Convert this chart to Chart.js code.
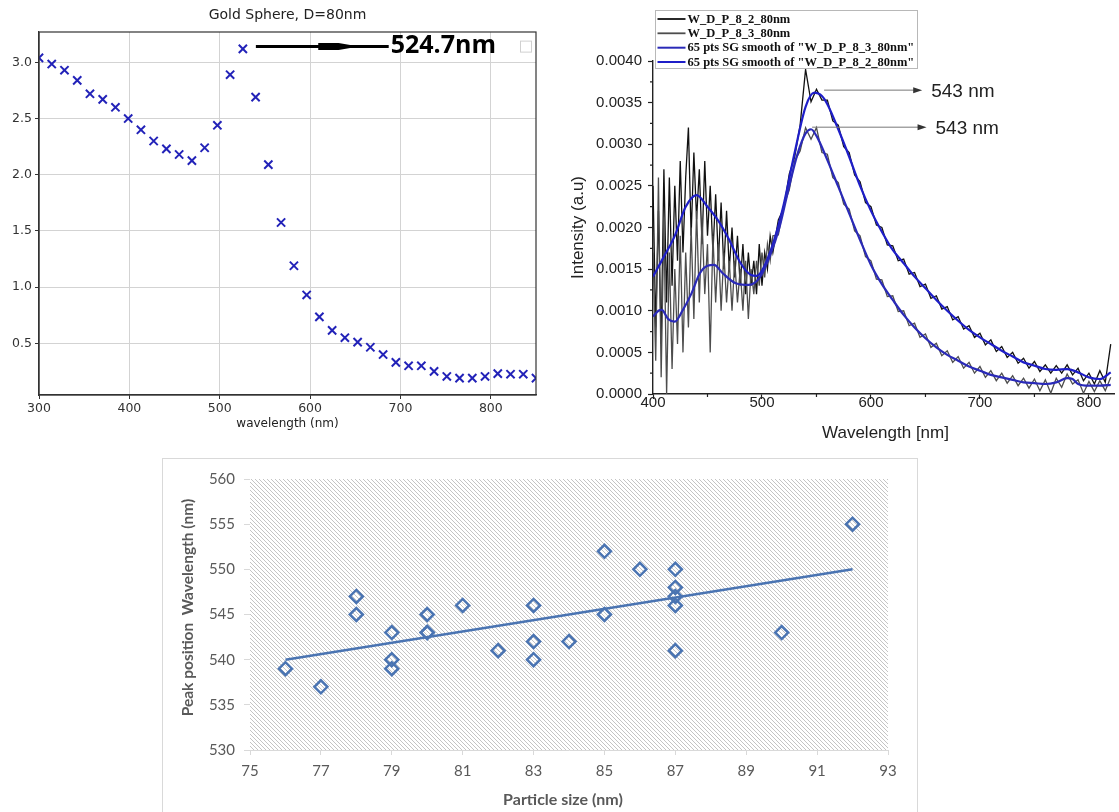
<!DOCTYPE html>
<html>
<head>
<meta charset="utf-8">
<title>Gold nanoparticle spectra</title>
<script src="https://cdn.jsdelivr.net/npm/chart.js@4.4.1/dist/chart.umd.min.js"></script>
<style>
  html, body { margin: 0; padding: 0; background: #fff; }
  body { width: 1119px; height: 812px; position: relative; overflow: hidden; }
  .panel { position: absolute; }
  #mieWrap { left: 0; top: 0; }
  #specWrap { left: 560px; top: 0; }
  #peakWrap { left: 162px; top: 458px; border: 1px solid #d9d9d9; }
  canvas { display: block; }
</style>
</head>
<body>
<div class="panel" id="mieWrap"><canvas id="mie" width="560" height="445"></canvas></div>
<div class="panel" id="specWrap"><canvas id="spec" width="559" height="450"></canvas></div>
<div class="panel" id="peakWrap"><canvas id="peak" width="754" height="353"></canvas></div>
<script>
// --- top left: simulated extinction, gold sphere D=80nm
const mieWavelength = [300, 314.1, 328.2, 342.3, 356.4, 370.5, 384.6, 398.7, 412.8, 426.9,
  441.0, 455.1, 469.2, 483.3, 497.4, 511.5, 525.6, 539.7, 553.8, 567.9,
  582.1, 596.2, 610.3, 624.4, 638.5, 652.6, 666.7, 680.8, 694.9, 709.0,
  723.1, 737.2, 751.3, 765.4, 779.5, 793.6, 807.7, 821.8, 835.9, 850];
const mieExtinction = [3.04, 2.985, 2.93, 2.84, 2.72, 2.67, 2.60, 2.50, 2.40, 2.30,
  2.23, 2.18, 2.125, 2.24, 2.44, 2.89, 3.12, 2.69, 2.09, 1.575,
  1.19, 0.93, 0.735, 0.615, 0.55, 0.51, 0.465, 0.40, 0.33, 0.30,
  0.30, 0.25, 0.205, 0.19, 0.19, 0.205, 0.23, 0.225, 0.225, 0.19];

// --- top right: measured spectra (raw) and SG smoothed curves
const specX = [400, 402.5, 405, 407.5, 410, 412.5, 415, 417.5, 420, 422.5,
  425, 427.5, 430, 432.5, 435, 437.5, 440, 442.5, 445, 447.5,
  450, 452.5, 455, 457.5, 460, 462.5, 465, 467.5, 470, 472.5,
  475, 477.5, 480, 482.5, 485, 487.5, 490, 492.5, 495, 497.5,
  500, 502.5, 505, 507.5, 510,
  515, 520, 525, 530, 535, 540, 545, 550, 555, 560,
  565, 570, 575, 580, 585, 590, 595, 600, 605, 610,
  615, 620, 625, 630, 635, 640, 645, 650, 655, 660,
  665, 670, 675, 680, 685, 690, 695, 700, 705, 710,
  715, 720, 725, 730, 735, 740, 745, 750, 755, 760,
  765, 770, 775, 780, 785, 790, 795, 800, 805, 810, 815, 820];
const raw82 = [.0025, .0008, .0022, .0006, .0027, .0011, .0026, .0013, .0025, .0016,
  .0028, .0017, .0026, .0032, .0019, .0029, .0021, .0027, .0018, .0028,
  .0019, .0025, .0017, .0024, .0016, .0023, .0015, .0022, .0015, .0020,
  .0014, .0019, .0013, .0018, .0012, .0017, .0013, .0016, .0012, .0018,
  .0013, .0017, .0015, .0019, .0017,
  .00209, .00223, .00264, .00285, .00323, .0039, .00351, .00366, .00353, .00353,
  .00328, .00323, .00297, .0029, .00263, .00255, .0023, .00225, .00203, .002,
  .00179, .00178, .0016, .00162, .00144, .00146, .00129, .00132, .00115, .00118,
  .00102, .00105, .00089, .00093, .00078, .00082, .00068, .00073, .00059, .00065,
  .00051, .00057, .00044, .0005, .00037, .00043, .00031, .00039, .00027, .00035,
  .00025, .00034, .00025, .00035, .00023, .00031, .00016, .00025, .00012, .00028, .00014, .0006];
const raw83 = [.0017, .0004, .0026, .0002, .0021, .0000, .0017, .0003, .0015, .0006,
  .0019, .0005, .0017, .0008, .0020, .0009, .0022, .0011, .0021, .0012,
  .0018, .0005, .0019, .0011, .0018, .0010, .0017, .0011, .0016, .0010,
  .0016, .0011, .0015, .0010, .0016, .0009, .0015, .0012, .0016, .0013,
  .0017, .0014, .0018, .0016, .0019,
  .00191, .00227, .00245, .0028, .00292, .0032, .00306, .0032, .0029, .00288,
  .0026, .00254, .00228, .00222, .00196, .0019, .00165, .0016, .00138, .00137,
  .00117, .00118, .00099, .001, .00082, .00085, .00068, .00072, .00056, .00061,
  .00046, .00052, .00038, .00045, .00031, .00038, .00025, .00033, .0002, .00028,
  .00016, .00025, .00013, .00022, .0001, .00019, .00007, .00018, .00004, .00017,
  .00001, .00019, .00008, .00024, .00012, .00017, .00001, .00015, .00003, .00016, .00004, .0002];
const smoothX82 = [400, 410, 420, 430, 440, 450, 460, 470, 480, 490,
  495, 500, 510, 520, 530, 540, 548, 555, 560, 570,
  580, 590, 600, 610, 620, 630, 640, 650, 660, 670,
  680, 690, 700, 710, 720, 730, 740, 750, 760, 770,
  780, 790, 800, 810, 820];
const smooth82 = [.00141, .00165, .0019, .00225, .00239, .00225, .00208, .00185, .00158, .00143,
  .00142, .00148, .0018, .00228, .0029, .00345, .00362, .00358, .00348, .00318,
  .00285, .0025, .0022, .00195, .00173, .00157, .00141, .00127, .00113, .001,
  .00088, .00077, .00068, .0006, .00052, .00045, .00038, .00034, .0003, .00029,
  .0003, .00026, .0002, .00018, .00026];
const smoothX83 = [400, 405, 408, 414, 420, 427, 435, 443, 450, 456,
  464, 476, 488, 498, 507, 516, 525, 533, 540, 545,
  550, 560, 570, 580, 590, 600, 610, 620, 630, 640,
  650, 660, 670, 680, 690, 700, 710, 720, 730, 740,
  750, 760, 770, 780, 785, 790, 800, 810, 820];
const smooth83 = [.00093, .001, .00101, .0009, .00087, .001, .0012, .00145, .00154, .00155,
  .00145, .00133, .00131, .0014, .00165, .002, .0025, .0029, .00313, .00318,
  .0031, .00281, .00249, .00217, .00185, .00155, .00132, .00113, .00095, .0008,
  .00067, .00056, .00047, .0004, .00033, .00028, .00023, .0002, .00017, .00014,
  .00013, .00012, .00014, .00019, .00018, .00012, .0001, .0001, .00011];

// --- bottom: peak position vs particle size
const sizeNm = [76, 77, 78, 78, 79, 79, 79, 80, 80, 80, 81, 82, 83, 83, 83, 84, 85, 85, 86, 87, 87, 87, 87, 87, 90, 92];
const peakNm = [539, 537, 547, 545, 543, 540, 539, 545, 543, 543, 546, 541, 546, 542, 540, 542, 552, 545, 550, 550, 548, 547, 546, 541, 543, 555];
const trendSize = [76, 92];
const trendPeak = [540, 550];

const pts = (xs, ys) => xs.map((x, i) => ({ x: x, y: ys[i] }));

// ============ chart 1 ============
const mieNote = { from: 540, to: 687, headFrom: 609, headTo: 654, y: 3.14, text: '524.7nm' };

const mieDecor = {
  id: 'mieDecor',
  afterDraw(chart) {
    const { ctx, chartArea: a, scales: { x, y } } = chart;
    ctx.save();
    ctx.strokeStyle = '#333';
    ctx.lineWidth = 1.2;
    ctx.strokeRect(a.left, a.top, a.right - a.left, a.bottom - a.top);

    ctx.fillStyle = '#222';
    ctx.textAlign = 'center';
    ctx.textBaseline = 'middle';
    ctx.font = '14px "DejaVu Sans"';
    ctx.fillText('Gold Sphere, D=80nm', (a.left + a.right) / 2, 15);
    ctx.font = '12px "DejaVu Sans"';
    ctx.fillText('wavelength (nm)', (a.left + a.right) / 2, a.bottom + 29);

    // arrow to the peak label
    const ay = y.getPixelForValue(mieNote.y);
    const x0 = x.getPixelForValue(mieNote.from), x1 = x.getPixelForValue(mieNote.to);
    const h0 = x.getPixelForValue(mieNote.headFrom), h1 = x.getPixelForValue(mieNote.headTo);
    ctx.strokeStyle = '#000';
    ctx.lineWidth = 3;
    ctx.beginPath(); ctx.moveTo(x0, ay); ctx.lineTo(x1, ay); ctx.stroke();
    ctx.fillStyle = '#000';
    ctx.beginPath();
    ctx.moveTo(h0, ay - 3.5); ctx.lineTo(h0 + (h1 - h0) * 0.5, ay - 3.5);
    ctx.lineTo(h1, ay); ctx.lineTo(h0 + (h1 - h0) * 0.5, ay + 3.5);
    ctx.lineTo(h0, ay + 3.5); ctx.closePath(); ctx.fill();
    ctx.font = 'bold 25px "Open Sans"';
    ctx.textAlign = 'left';
    ctx.fillText(mieNote.text, x1 + 2, ay - 1);

    // empty legend box
    ctx.strokeStyle = '#d0d0d0';
    ctx.lineWidth = 1;
    ctx.strokeRect(a.right - 15.5, ay - 5.5, 11, 11);
    ctx.restore();
  }
};

new Chart(document.getElementById('mie'), {
  type: 'scatter',
  data: {
    datasets: [{
      data: pts(mieWavelength, mieExtinction),
      pointStyle: 'crossRot',
      pointRadius: 5.8,
      pointBorderWidth: 2,
      pointBorderColor: '#2222b8',
      pointBackgroundColor: '#2222b8',
      clip: 0
    }]
  },
  options: {
    responsive: false,
    animation: false,
    layout: { padding: { top: 32, right: 24, left: 0, bottom: 0 } },
    plugins: { legend: { display: false }, tooltip: { enabled: false } },
    scales: {
      x: {
        type: 'linear', min: 300, max: 850,
        afterFit: s => { s.height = 50; },
        ticks: { stepSize: 100, includeBounds: false, maxRotation: 0, padding: 2, color: '#333',
          font: { family: 'DejaVu Sans', size: 12.5 } },
        grid: { color: '#d3d3d3', tickColor: '#333', tickLength: 4 },
        border: { color: '#333', width: 1.2 }
      },
      y: {
        min: 0.04, max: 3.27,
        afterFit: s => { s.width = 39; },
        ticks: { stepSize: 0.5, includeBounds: false, padding: 3, color: '#333',
          font: { family: 'DejaVu Sans', size: 12.5 }, callback: v => v.toFixed(1) },
        grid: { color: '#d3d3d3', tickColor: '#333', tickLength: 4 },
        border: { color: '#333', width: 1.2 }
      }
    }
  },
  plugins: [mieDecor]
});

// ============ chart 2 ============
const peakArrows = [
  { from: 557, to: 647, y: 0.00365, label: '543 nm' },
  { from: 546, to: 651, y: 0.003205, label: '543 nm' }
];

const specDecor = {
  id: 'specDecor',
  afterDraw(chart) {
    const { ctx, chartArea: a, scales: { x, y } } = chart;
    ctx.save();
    // minor ticks
    ctx.strokeStyle = '#222';
    ctx.lineWidth = 1.2;
    ctx.beginPath();
    for (let v = 450; v < x.max; v += 100) {
      const px = x.getPixelForValue(v);
      ctx.moveTo(px, a.bottom); ctx.lineTo(px, a.bottom + 3);
    }
    for (let v = 0.00025; v < y.max; v += 0.0005) {
      const py = y.getPixelForValue(v);
      ctx.moveTo(a.left, py); ctx.lineTo(a.left - 3, py);
    }
    ctx.stroke();

    // axis titles
    ctx.fillStyle = '#222';
    ctx.font = '17px "Liberation Sans"';
    ctx.textAlign = 'center';
    ctx.textBaseline = 'middle';
    ctx.fillText('Wavelength [nm]', (a.left + a.right) / 2 + 2, a.bottom + 39);
    ctx.save();
    ctx.translate(18, (a.top + a.bottom) / 2);
    ctx.rotate(-Math.PI / 2);
    ctx.fillText('Intensity (a.u)', 0, 0);
    ctx.restore();

    // peak arrows
    peakArrows.forEach(p => {
      const py = y.getPixelForValue(p.y);
      const x0 = x.getPixelForValue(p.from), x1 = x.getPixelForValue(p.to);
      ctx.strokeStyle = '#777';
      ctx.lineWidth = 1;
      ctx.beginPath(); ctx.moveTo(x0, py); ctx.lineTo(x1 - 6, py); ctx.stroke();
      ctx.fillStyle = '#333';
      ctx.beginPath(); ctx.moveTo(x1, py); ctx.lineTo(x1 - 9, py - 3); ctx.lineTo(x1 - 9, py + 3); ctx.closePath(); ctx.fill();
      ctx.fillStyle = '#222';
      ctx.font = '19px "Liberation Sans"';
      ctx.textAlign = 'left';
      ctx.fillText(p.label, x1 + 9, py + 2);
    });

    // legend
    const lx = a.left + 2.5, ly = 10.5, lw = 262, lh = 58;
    ctx.fillStyle = '#fff';
    ctx.fillRect(lx, ly, lw, lh);
    ctx.strokeStyle = '#b8b8b8';
    ctx.lineWidth = 1;
    ctx.strokeRect(lx, ly, lw, lh);
    const rows = [19, 33.3, 47.7, 62];
    chart.data.datasets.forEach((ds, i) => {
      const ry = rows[i];
      ctx.strokeStyle = ds.borderColor;
      ctx.lineWidth = i < 2 ? 1.8 : 2;
      ctx.beginPath(); ctx.moveTo(lx + 2, ry); ctx.lineTo(lx + 30, ry); ctx.stroke();
      ctx.fillStyle = '#111';
      ctx.font = 'bold 12.5px "Liberation Serif"';
      ctx.textAlign = 'left';
      ctx.fillText(ds.label, lx + 32, ry + 0.5);
    });
    ctx.restore();
  }
};

new Chart(document.getElementById('spec'), {
  type: 'line',
  data: {
    datasets: [
      { label: 'W_D_P_8_2_80nm', data: pts(specX, raw82), borderColor: '#111111', borderWidth: 1.3, pointRadius: 0, order: 2 },
      { label: 'W_D_P_8_3_80nm', data: pts(specX, raw83), borderColor: '#4d4d4d', borderWidth: 1.3, pointRadius: 0, order: 1 },
      { label: '65 pts SG smooth of "W_D_P_8_3_80nm"', data: pts(smoothX83, smooth83), borderColor: '#2a2ab8', borderWidth: 2.2,
        pointRadius: 0, cubicInterpolationMode: 'monotone', order: 0 },
      { label: '65 pts SG smooth of "W_D_P_8_2_80nm"', data: pts(smoothX82, smooth82), borderColor: '#1e1ec8', borderWidth: 2.2,
        pointRadius: 0, cubicInterpolationMode: 'monotone', order: 0 }
    ]
  },
  options: {
    responsive: false,
    animation: false,
    layout: { padding: { top: 61, right: 5, left: 0, bottom: 0 } },
    plugins: { legend: { display: false }, tooltip: { enabled: false } },
    scales: {
      x: {
        type: 'linear', min: 400, max: 823,
        afterFit: s => { s.height = 56; },
        ticks: { stepSize: 100, includeBounds: false, maxRotation: 0, padding: -5, color: '#222',
          font: { family: 'Liberation Sans', size: 15 } },
        grid: { drawOnChartArea: false, tickColor: '#222', tickLength: 5, tickWidth: 1.2 },
        border: { color: '#222', width: 1.4 }
      },
      y: {
        min: 0, max: 0.004,
        afterFit: s => { s.width = 93; },
        ticks: { stepSize: 0.0005, padding: 6, color: '#222',
          font: { family: 'Liberation Sans', size: 15 }, callback: v => v.toFixed(4) },
        grid: { drawOnChartArea: false, tickColor: '#222', tickLength: 5, tickWidth: 1.2 },
        border: { color: '#222', width: 1.4 }
      }
    }
  },
  plugins: [specDecor]
});

// ============ chart 3 ============
const hatchTile = document.createElement('canvas');
hatchTile.width = 4; hatchTile.height = 4;
(() => {
  const c = hatchTile.getContext('2d');
  c.fillStyle = '#fff';
  c.fillRect(0, 0, 4, 4);
  c.strokeStyle = '#c4c4c4';
  c.lineWidth = 1;
  c.beginPath();
  c.moveTo(0, 0); c.lineTo(4, 4);
  c.moveTo(-1, 3); c.lineTo(1, 5);
  c.moveTo(3, -1); c.lineTo(5, 1);
  c.stroke();
})();

const peakDecor = {
  id: 'peakDecor',
  beforeDatasetsDraw(chart) {
    const { ctx, chartArea: a } = chart;
    ctx.save();
    ctx.fillStyle = ctx.createPattern(hatchTile, 'repeat');
    ctx.fillRect(a.left, a.top, a.right - a.left, a.bottom - a.top);
    ctx.restore();
  },
  afterDraw(chart) {
    const { ctx, chartArea: a } = chart;
    ctx.save();
    ctx.fillStyle = '#595959';
    ctx.textAlign = 'center';
    ctx.textBaseline = 'middle';
    ctx.font = 'bold 16px Lato';
    ctx.fillText('Particle size (nm)', (a.left + a.right) / 2 - 6, 341);
    ctx.translate(25, (a.top + a.bottom) / 2 - 7);
    ctx.rotate(-Math.PI / 2);
    ctx.font = 'bold 15.5px Lato';
    ctx.fillText('Peak position  Wavelength (nm)', 0, 0);
    ctx.restore();
  }
};

new Chart(document.getElementById('peak'), {
  type: 'scatter',
  data: {
    datasets: [
      { data: pts(sizeNm, peakNm), pointStyle: 'rectRot', pointRadius: 6.5, pointBorderWidth: 2.5,
        pointBorderColor: '#4a74b2', pointBackgroundColor: 'rgba(255,255,255,0)' },
      { type: 'line', data: pts(trendSize, trendPeak), borderColor: '#4a74b2', borderWidth: 2.5, pointRadius: 0 }
    ]
  },
  options: {
    responsive: false,
    animation: false,
    layout: { padding: { top: 20, right: 29, left: 0, bottom: 0 } },
    plugins: { legend: { display: false }, tooltip: { enabled: false } },
    scales: {
      x: {
        type: 'linear', min: 75, max: 93,
        afterFit: s => { s.height = 62; },
        ticks: { stepSize: 2, maxRotation: 0, padding: 7, color: '#595959',
          font: { family: 'Lato', size: 15 } },
        grid: { drawOnChartArea: false, tickColor: '#d9d9d9', tickLength: 5 },
        border: { color: '#d9d9d9', width: 1 }
      },
      y: {
        min: 530, max: 560,
        afterFit: s => { s.width = 87; },
        ticks: { stepSize: 5, padding: 9, color: '#595959',
          font: { family: 'Lato', size: 15 } },
        grid: { drawOnChartArea: false, tickColor: '#d9d9d9', tickLength: 6 },
        border: { color: '#d9d9d9', width: 1 }
      }
    }
  },
  plugins: [peakDecor]
});
</script>
</body>
</html>
